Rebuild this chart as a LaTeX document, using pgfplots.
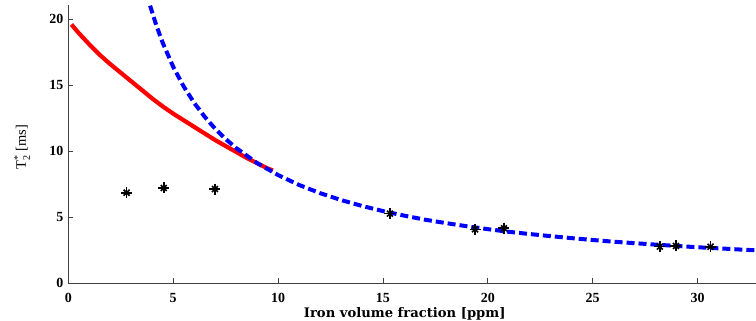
\documentclass[border=0pt]{standalone}
\usepackage{fontspec}
\setmainfont{Liberation Serif}
\newfontfamily\labfont{DejaVu Serif}
\usepackage{amsmath}
\usepackage{pgfplots}
\pgfplotsset{compat=1.18}
\begin{document}
\begin{tikzpicture}
\begin{axis}[
  scale only axis,
  width=688bp, height=278.3bp,
  xmin=0, xmax=32.8, ymin=0, ymax=21.08,
  axis x line=bottom, axis y line=left,
  axis line style={-, black!75, line width=0.8bp},
  tick align=inside, major tick length=5bp,
  tick style={black!75, line width=0.8bp},
  xtick={0,5,...,30}, ytick={0,5,...,20},
  ticklabel style={font=\fontsize{14}{14}\selectfont\bfseries},
  xticklabel style={anchor=base, yshift=-19.7bp},
  yticklabel style={xshift=-1.5bp},
  /pgf/number format/assume math mode=true,
  xlabel={\labfont\fontsize{13.2}{13}\selectfont\bfseries Iron volume fraction [ppm]},
  ylabel={\fontsize{14.5}{14}\selectfont T$^{\text{*}}_{\text{2}}$ [ms]},
  xlabel style={at={(axis description cs:0.489,0)}, anchor=base, yshift=-34.7bp},
  ylabel style={at={(axis description cs:-0.0615,0.49)}, anchor=base},
  clip=true,
]
\addplot[red, line width=4.2bp, no marks] coordinates {
(0.15,19.6) (0.5,18.95) (1,18.1) (1.5,17.3) (2,16.6) (2.5,15.95) (3,15.3) (3.5,14.65) (4,14.0) (4.5,13.4) (5,12.85) (5.5,12.35) (6,11.85) (6.5,11.35) (7,10.85) (7.5,10.4) (8,9.95) (8.5,9.5) (9,9.1) (9.5,8.7) (9.75,8.55)
};
\addplot[blue, line width=4bp, dash pattern=on 8bp off 4bp, no marks] coordinates {
(3.9,21.03) (4.2,19.52) (4.5,18.22) (5,16.4) (5.5,14.91) (6,13.67) (6.5,12.62) (7,11.71) (7.5,10.93) (8,10.25) (9,9.11) (10,8.2) (11,7.45) (12,6.83) (13,6.31) (14,5.86) (15,5.47) (16,5.13) (17,4.82) (18,4.56) (19,4.32) (20,4.1) (21,3.90) (22,3.73) (23,3.57) (24,3.42) (25,3.28) (26,3.15) (27,3.04) (28,2.93) (29,2.83) (30,2.73) (31,2.65) (32,2.56) (33,2.48)
};
\pgfplotstableread{
x y
2.78 6.86
4.55 7.22
6.99 7.14
15.33 5.28
19.39 4.09
20.77 4.17
28.2 2.78
28.97 2.83
30.62 2.77
}\stars
\addplot[only marks, mark=+, mark size=5.5bp, black, line width=1.6bp] table {\stars};
\addplot[only marks, mark=x, mark size=4.2bp, black, line width=1.6bp] table {\stars};
\end{axis}
\pgfresetboundingbox
\path (-68.3bp,-37.7bp) rectangle (687.7bp,283.3bp);
\end{tikzpicture}
\end{document}
